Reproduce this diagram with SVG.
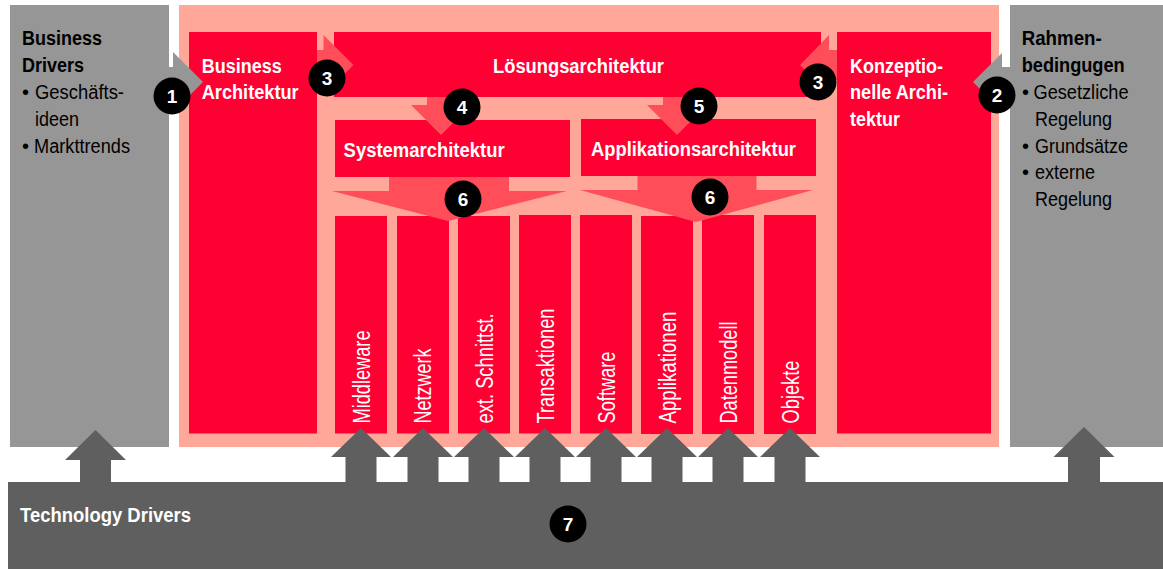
<svg xmlns="http://www.w3.org/2000/svg" width="1163" height="569" viewBox="0 0 1163 569">
  <style>
    .bg { fill: #FFA899; }
    .side { fill: #969696; }
    .box { fill: #FF0033; }
    .flow { fill: #FF4D5A; }
    .feed { fill: #969696; }
    .up { fill: #5F5F5F; }
    .badge { fill: #000000; }
    text { font-family: "Liberation Sans", Arial, Helvetica, sans-serif; }
    .num { font-size: 19px; font-weight: bold; fill: #FFFFFF; text-anchor: middle; }
    .head { font-size: 20px; font-weight: bold; fill: #FFFFFF; }
    .headDark { font-size: 20px; font-weight: bold; fill: #000000; }
    .item { font-size: 20px; fill: #000000; }
    .col { font-size: 23px; fill: #FFFFFF; }
  </style>

  <!-- background frames -->
  <g id="frame">
    <rect class="bg" x="179" y="5" width="820" height="442"/>
  </g>

  <g id="business-drivers">
    <rect class="side" x="10" y="5" width="159" height="442"/>
    <text class="headDark" x="22" y="44.5" textLength="80" lengthAdjust="spacingAndGlyphs">Business</text>
    <text class="headDark" x="22" y="71.5" textLength="62" lengthAdjust="spacingAndGlyphs">Drivers</text>
    <text class="item" x="22" y="99">•</text>
    <text class="item" x="35" y="99" textLength="89" lengthAdjust="spacingAndGlyphs">Geschäfts-</text>
    <text class="item" x="35" y="126" textLength="44" lengthAdjust="spacingAndGlyphs">ideen</text>
    <text class="item" x="22" y="152.7">•</text>
    <text class="item" x="34" y="152.7" textLength="96" lengthAdjust="spacingAndGlyphs">Markttrends</text>
  </g>

  <g id="rahmenbedingungen">
    <rect class="side" x="1010" y="5" width="153" height="442"/>
    <text class="headDark" x="1021.7" y="45" textLength="80" lengthAdjust="spacingAndGlyphs">Rahmen-</text>
    <text class="headDark" x="1021.7" y="71.7" textLength="103" lengthAdjust="spacingAndGlyphs">bedingugen</text>
    <text class="item" x="1022" y="99.3">•</text>
    <text class="item" x="1033.5" y="99.3" textLength="95" lengthAdjust="spacingAndGlyphs">Gesetzliche</text>
    <text class="item" x="1035" y="126" textLength="77" lengthAdjust="spacingAndGlyphs">Regelung</text>
    <text class="item" x="1022" y="152.7">•</text>
    <text class="item" x="1035" y="152.7" textLength="93" lengthAdjust="spacingAndGlyphs">Grundsätze</text>
    <text class="item" x="1022" y="179.3">•</text>
    <text class="item" x="1035" y="179.3" textLength="60" lengthAdjust="spacingAndGlyphs">externe</text>
    <text class="item" x="1035" y="206" textLength="77" lengthAdjust="spacingAndGlyphs">Regelung</text>
  </g>

  <g id="technology-drivers">
    <rect class="up" x="8" y="482" width="1155" height="87"/>
  </g>

  <!-- architecture boxes -->
  <g id="business-architektur">
    <rect class="box" x="189" y="32" width="128" height="401.5"/>
  </g>
  <g id="loesungsarchitektur">
    <rect class="box" x="334" y="32" width="487" height="65"/>
  </g>
  <g id="konzeptionelle-architektur">
    <rect class="box" x="837" y="32" width="154" height="401.5"/>
  </g>
  <g id="systemarchitektur">
    <rect class="box" x="335" y="120" width="235" height="57"/>
  </g>
  <g id="applikationsarchitektur">
    <rect class="box" x="581" y="119" width="235" height="57"/>
  </g>

  <!-- building blocks -->
  <g id="middleware"><rect class="box" x="335" y="216" width="52" height="217.5"/></g>
  <g id="netzwerk"><rect class="box" x="397" y="216" width="52" height="217.5"/></g>
  <g id="ext-schnittstellen"><rect class="box" x="458" y="216" width="52" height="217.5"/></g>
  <g id="transaktionen"><rect class="box" x="519" y="215" width="52" height="218.5"/></g>
  <g id="software"><rect class="box" x="580" y="215" width="52" height="218.5"/></g>
  <g id="applikationen"><rect class="box" x="641" y="216" width="52" height="218"/></g>
  <g id="datenmodell"><rect class="box" x="702" y="215" width="52" height="219"/></g>
  <g id="objekte"><rect class="box" x="764" y="215" width="52" height="219"/></g>

  <!-- connectors -->
  <g id="connectors">
    <!-- external inputs -->
    <polygon class="feed" points="169,67 173,67 173,52 203,82 173,112 173,97 169,97"/>
    <polygon class="feed" points="1010,67 1002,67 1002,53 973,82 1002,111 1002,97 1010,97"/>
    <!-- into the solution architecture -->
    <polygon class="flow" points="317,50 323.5,50 323.5,35 353.5,65 323.5,95 323.5,80 317,80"/>
    <polygon class="flow" points="837,50 829,50 829,35 800,65 829,95 829,80 837,80"/>
    <!-- solution to system / application -->
    <polygon class="flow" points="427,97 455,97 455,105 471,105 441,135 411,105 427,105"/>
    <polygon class="flow" points="663,97 691,97 691,105 707,105 677,135 647,105 663,105"/>
    <!-- system / application to building blocks -->
    <polygon class="flow" points="389,177 509,177 509,191 567,191 448,221 332,191 389,191"/>
    <polygon class="flow" points="637.5,176 756.5,176 756.5,190 813,190 696,222 580,190 637.5,190"/>
    <!-- technology pushes -->
    <polygon class="up" points="95.5,430 126,460 111,460 111,482 80,482 80,460 65,460"/>
    <polygon class="up" points="1084,427 1114.5,457 1100,457 1100,482 1068,482 1068,457 1053.5,457"/>
    <polygon class="up" points="361,428 391,457 376.5,457 376.5,482 345.5,482 345.5,457 331,457"/>
    <polygon class="up" points="423,428 453,457 438.5,457 438.5,482 407.5,482 407.5,457 393,457"/>
    <polygon class="up" points="484,428 514,457 499.5,457 499.5,482 468.5,482 468.5,457 454,457"/>
    <polygon class="up" points="545,428 575,457 560.5,457 560.5,482 529.5,482 529.5,457 515,457"/>
    <polygon class="up" points="606,428 636,457 621.5,457 621.5,482 590.5,482 590.5,457 576,457"/>
    <polygon class="up" points="667,428 697,457 682.5,457 682.5,482 651.5,482 651.5,457 637,457"/>
    <polygon class="up" points="728,428 758,457 743.5,457 743.5,482 712.5,482 712.5,457 698,457"/>
    <polygon class="up" points="790,428 820,457 805.5,457 805.5,482 774.5,482 774.5,457 760,457"/>
  </g>

  <!-- labels -->
  <g id="labels">
    <text class="head" x="201.7" y="72.7" textLength="80" lengthAdjust="spacingAndGlyphs">Business</text>
    <text class="head" x="201.7" y="99.3" textLength="97" lengthAdjust="spacingAndGlyphs">Architektur</text>
    <text class="head" x="493" y="73" textLength="171" lengthAdjust="spacingAndGlyphs">Lösungsarchitektur</text>
    <text class="head" x="850" y="72.7" textLength="93" lengthAdjust="spacingAndGlyphs">Konzeptio-</text>
    <text class="head" x="850" y="99.3" textLength="98" lengthAdjust="spacingAndGlyphs">nelle Archi-</text>
    <text class="head" x="850" y="126" textLength="50" lengthAdjust="spacingAndGlyphs">tektur</text>
    <text class="head" x="343.6" y="157" textLength="161" lengthAdjust="spacingAndGlyphs">Systemarchitektur</text>
    <text class="head" x="591" y="156" textLength="205" lengthAdjust="spacingAndGlyphs">Applikationsarchitektur</text>
    <text class="head" x="20" y="521.7" textLength="171" lengthAdjust="spacingAndGlyphs">Technology Drivers</text>

    <text class="col" transform="translate(369.5,423.5) rotate(-90)" textLength="93" lengthAdjust="spacingAndGlyphs">Middleware</text>
    <text class="col" transform="translate(431,423.5) rotate(-90)" textLength="75" lengthAdjust="spacingAndGlyphs">Netzwerk</text>
    <text class="col" transform="translate(492.5,423.5) rotate(-90)" textLength="110" lengthAdjust="spacingAndGlyphs">ext. Schnittst.</text>
    <text class="col" transform="translate(553.5,423.5) rotate(-90)" textLength="115" lengthAdjust="spacingAndGlyphs">Transaktionen</text>
    <text class="col" transform="translate(614.5,423.5) rotate(-90)" textLength="72" lengthAdjust="spacingAndGlyphs">Software</text>
    <text class="col" transform="translate(675.5,423.5) rotate(-90)" textLength="112" lengthAdjust="spacingAndGlyphs">Applikationen</text>
    <text class="col" transform="translate(736.5,423.5) rotate(-90)" textLength="102" lengthAdjust="spacingAndGlyphs">Datenmodell</text>
    <text class="col" transform="translate(798.5,423.5) rotate(-90)" textLength="63" lengthAdjust="spacingAndGlyphs">Objekte</text>
  </g>

  <!-- step badges -->
  <g id="badges">
    <circle class="badge" cx="172" cy="96" r="18.5"/><text class="num" x="172" y="103">1</text>
    <circle class="badge" cx="997" cy="95" r="18.5"/><text class="num" x="997" y="102">2</text>
    <circle class="badge" cx="327" cy="78" r="18.5"/><text class="num" x="327" y="85">3</text>
    <circle class="badge" cx="818" cy="82" r="18.5"/><text class="num" x="818" y="89">3</text>
    <circle class="badge" cx="462" cy="107" r="18.5"/><text class="num" x="462" y="114">4</text>
    <circle class="badge" cx="699" cy="106" r="18.5"/><text class="num" x="699" y="113">5</text>
    <circle class="badge" cx="463" cy="199" r="18.5"/><text class="num" x="463" y="206">6</text>
    <circle class="badge" cx="710" cy="197" r="18.5"/><text class="num" x="710" y="204">6</text>
    <circle class="badge" cx="568" cy="524" r="18.5"/><text class="num" x="568" y="531">7</text>
  </g>
</svg>
